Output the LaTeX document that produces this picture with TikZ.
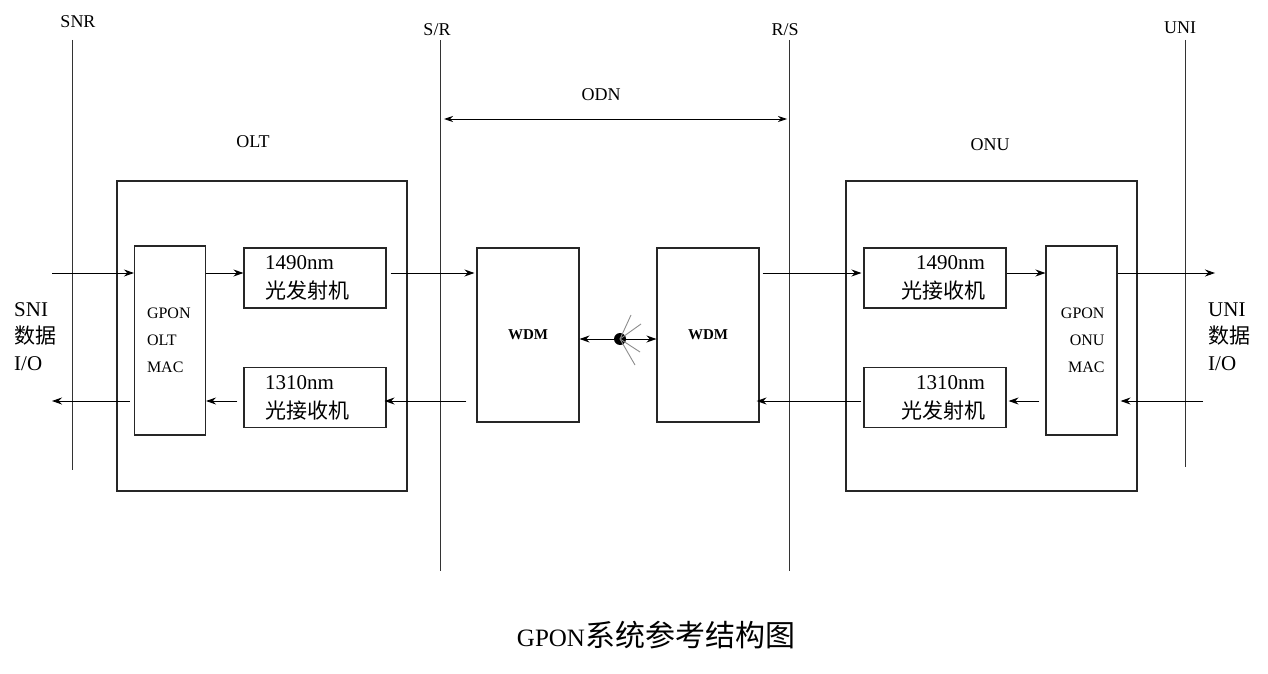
\documentclass[tikz,border=0pt]{standalone}
\usepackage{fontspec}
\setmainfont{Liberation Serif}
\newfontfamily\cjk{Noto Sans CJK SC}
\usetikzlibrary{positioning,calc,arrows.meta}

\begin{document}
\begin{tikzpicture}[
    x=1pt, y=-1pt,
    unit/.style={draw=black!85, line width=1.1pt, minimum width=#1},
    optbox/.style={draw=black!85, line width=1.1pt, inner xsep=21pt, text width=100pt,
        minimum height=60pt, font=\fontsize{21}{29}\selectfont},
    macbox/.style={draw=black!85, line width=1.1pt, inner xsep=12.5pt, text width=46pt,
        minimum height=189pt, font=\fontsize{16}{27}\selectfont},
    wdmbox/.style={draw=black!85, line width=1.1pt, minimum width=102pt, minimum height=174pt,
        font=\fontsize{15}{16}\selectfont\bfseries},
    refline/.style={line width=0.9pt, black!80},
    sig/.style={-{Stealth[length=10pt,width=7pt]}, line width=0.9pt},
    ray/.style={line width=0.9pt, black!45},
    lbl/.style={font=\fontsize{18}{20}\selectfont},
    io/.style={align=left, anchor=west, inner sep=0pt, font=\fontsize{21}{27}\selectfont},
]
\useasboundingbox (0,0) rectangle (1268,674);

% reference points
\coordinate (snr top) at (72,40);   \coordinate (snr bot) at (72,470);
\coordinate (sr top) at (440,40);   \coordinate (sr bot) at (440,571);
\coordinate (rs top) at (789,40);   \coordinate (rs bot) at (789,571);
\coordinate (uni top) at (1185,40); \coordinate (uni bot) at (1185,467);
\coordinate (odn row) at (0,119);
\coordinate (up) at (0,273);
\coordinate (down) at (0,401);
\coordinate (sni in) at (52,273);
\coordinate (sni out) at (52,401);
\coordinate (uni out) at (1215,273);
\coordinate (uni in) at (1203,401);

\draw[refline] (snr top) -- (snr bot);
\draw[refline] (sr top) -- (sr bot);
\draw[refline] (rs top) -- (rs bot);
\draw[refline] (uni top) -- (uni bot);
\node[lbl] (snr) at (78,22) {SNR};
\node[lbl] (sr) at (437,30) {S/R};
\node[lbl] (rs) at (785,30) {R/S};
\node[lbl] (uni) at (1180,28) {UNI};

\node[lbl] (odn) at (601,95) {ODN};
\draw[{Stealth[length=9pt,width=6pt]}-{Stealth[length=9pt,width=6pt]}, line width=0.9pt,
    shorten <=4pt, shorten >=2pt] (sr top |- odn row) -- (rs top |- odn row);

% OLT side
\node[lbl] (oltlbl) at (253,142) {OLT};
\node[unit=290pt, minimum height=310pt] (olt) at (262,336) {};
\node[macbox, align=left] (omac) at (170,340.5) {GPON\\OLT\\MAC};
\node[optbox, align=left] (otx) at (315,278) {1490nm\\{\cjk 光发射机}};
\node[optbox, align=left] (orx) at (315,397.5) {1310nm\\{\cjk 光接收机}};
\node[io] (sni) at (14,337) {SNI\\{\cjk 数据}\\I/O};

% ODN
\node[wdmbox] (wdm1) at (528,335) {WDM};
\node[wdmbox] (wdm2) at (708,335) {WDM};
\node[circle, fill=black, minimum size=12pt, inner sep=0pt] (split) at (620,339) {};
\draw[sig] (split) -- (wdm1.east |- split);
\draw[sig] (split) -- (wdm2.west |- split);
\draw[ray] (split.center) -- ++(11,-24);
\draw[ray] (split.center) -- ++(21,-15);
\draw[ray] (split.center) -- ++(20,13);
\draw[ray] (split.center) -- ++(15,26);

% ONU side
\node[lbl] (onulbl) at (990,145) {ONU};
\node[unit=291pt, minimum height=310pt] (onu) at (991.5,336) {};
\node[optbox, align=right] (nrx) at (935,278) {1490nm\\{\cjk 光接收机}};
\node[optbox, align=right] (ntx) at (935,397.5) {1310nm\\{\cjk 光发射机}};
\node[macbox, align=right] (nmac) at (1081.5,340.5) {GPON\\ONU\\MAC};
\node[io] (unilbl) at (1208,337) {UNI\\{\cjk 数据}\\I/O};

% downstream
\draw[sig] (sni in) -- (omac.west |- up);
\draw[sig] (omac.east |- up) -- (otx.west |- up);
\draw[sig, shorten <=4pt, shorten >=2pt] (otx.east |- up) -- (wdm1.west |- up);
\draw[sig, shorten <=3pt, shorten >=2pt] (wdm2.east |- up) -- (nrx.west |- up);
\draw[sig] (nrx.east |- up) -- (nmac.west |- up);
\draw[sig] (nmac.east |- up) -- (uni out);

% upstream
\draw[sig] (uni in) -- ([xshift=3pt]nmac.east |- down);
\draw[sig, shorten <=6pt, shorten >=2pt] (nmac.west |- down) -- (ntx.east |- down);
\draw[sig, shorten <=2pt, shorten >=-3pt] (ntx.west |- down) -- (wdm2.east |- down);
\draw[sig, shorten <=10pt, shorten >=-2pt] (wdm1.west |- down) -- (orx.east |- down);
\draw[sig, shorten <=6pt] (orx.west |- down) -- (omac.east |- down);
\draw[sig, shorten <=4pt] (omac.west |- down) -- (sni out);

\node[inner sep=0pt] (title) at (656,635) {\fontsize{25}{30}\selectfont GPON{\cjk\fontsize{30}{30}\selectfont 系统参考结构图}};
\end{tikzpicture}
\end{document}
